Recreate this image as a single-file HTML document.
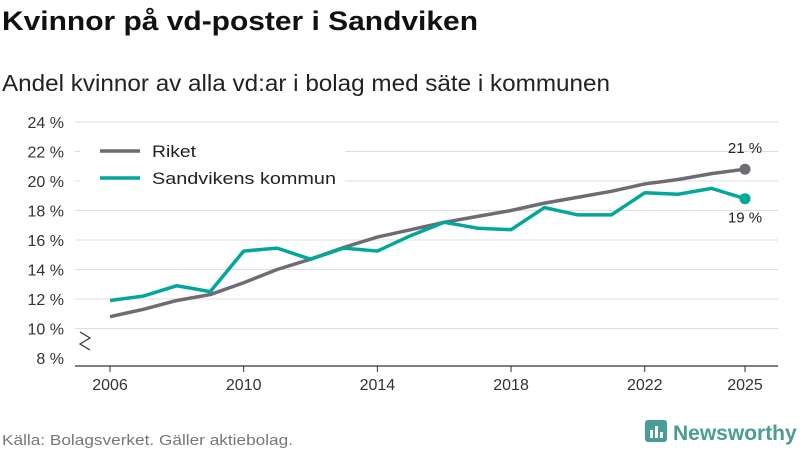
<!DOCTYPE html>
<html><head><meta charset="utf-8"><style>
body{margin:0;width:800px;height:450px;background:#fff;overflow:hidden;font-family:"Liberation Sans",sans-serif}
</style></head><body>
<svg id="c" width="800" height="450" style="position:absolute;left:0;top:0">
<text x="2" y="30" font-size="27" font-weight="bold" fill="#111" textLength="476" lengthAdjust="spacingAndGlyphs">Kvinnor på vd-poster i Sandviken</text>
<text x="2" y="91" font-size="23" fill="#222" textLength="608" lengthAdjust="spacingAndGlyphs">Andel kvinnor av alla vd:ar i bolag med säte i kommunen</text>
<text x="2" y="445" font-size="15" fill="#777" textLength="291" lengthAdjust="spacingAndGlyphs">Källa: Bolagsverket. Gäller aktiebolag.</text>
<g>
<rect x="645" y="420" width="22" height="22" rx="3" fill="#4a9d95"/>
<rect x="650" y="430" width="3" height="8" fill="#fff"/><rect x="655" y="426" width="3" height="12" fill="#fff"/><rect x="660" y="432" width="3" height="6" fill="#fff"/>
<text x="673" y="440" font-size="21" font-weight="bold" fill="#4a9d95">Newsworthy</text>
</g>
<g id="plot"></g>
</svg>
<script>
const years=[2006,2007,2008,2009,2010,2011,2012,2013,2014,2015,2016,2017,2018,2019,2020,2021,2022,2023,2024,2025];
const riket=[10.8,11.3,11.9,12.3,13.1,14.0,14.7,15.5,16.2,16.7,17.2,17.6,18.0,18.5,18.9,19.3,19.8,20.1,20.5,20.8];
const sandviken=[11.9,12.2,12.9,12.5,15.25,15.45,14.7,15.45,15.25,16.3,17.2,16.8,16.7,18.2,17.7,17.7,19.2,19.1,19.5,18.8];
const yTicks=[8,10,12,14,16,18,20,22,24];
const xTicks=[2006,2010,2014,2018,2022,2025];
const X=v=>110+(v-2006)*(745-110)/19;
const Y=v=>358-(v-8)*(236/16);
const ns="http://www.w3.org/2000/svg";
const g=document.getElementById('plot');
function el(t,a,txt){const e=document.createElementNS(ns,t);for(const k in a)e.setAttribute(k,a[k]);if(txt!=null)e.textContent=txt;g.appendChild(e);return e;}
yTicks.forEach(v=>{
 if(v>8){const l=el('line',{x1:75,x2:778,y1:Y(v),y2:Y(v),stroke:'#ddd','stroke-width':1});
 
 }
 const t=el('text',{x:64,y:Y(v)+6,'text-anchor':'end','font-size':16,fill:'#333'},v+' %');
 
 
});
const ax=el('line',{x1:75,x2:778,y1:366,y2:366,stroke:'#333','stroke-width':1.2});


const br=el('path',{d:'M80 332 L90 338 L80 344 L90 350',fill:'none',stroke:'#333','stroke-width':1.2});


xTicks.forEach(v=>{
 el('line',{x1:X(v),x2:X(v),y1:366,y2:372,stroke:'#333'});
 const t=el('text',{x:X(v),y:390,'text-anchor':'middle','font-size':16,fill:'#333'},v);
 
 
});
function line(data,color,name){
 const p=el('polyline',{points:data.map((v,i)=>X(years[i])+','+Y(v)).join(' '),fill:'none',stroke:color,'stroke-width':3.5,'stroke-linejoin':'round'});
 
 
 const n=data.length-1;
 const c=el('circle',{cx:X(years[n]),cy:Y(data[n]),r:5.5,fill:color});
 
 
}
line(riket,'#6e6c72','riket-line');
line(sandviken,'#00a79a','sandviken-line');
const n=years.length-1;
const l1=el('text',{x:X(years[n]),y:Y(riket[n])-16,'text-anchor':'middle','font-size':15,fill:'#222'},Math.round(riket[n])+' %');


const l2=el('text',{x:X(years[n]),y:Y(sandviken[n])+24,'text-anchor':'middle','font-size':15,fill:'#222'},Math.round(sandviken[n])+' %');


const lb=el('rect',{x:80,y:136,width:265,height:58,fill:'#fff'});


[['Riket','#6e6c72',151,44],['Sandvikens kommun','#00a79a',178,184]].forEach(([t,c,y,w])=>{
 el('line',{x1:100,x2:140,y1:y,y2:y,stroke:c,'stroke-width':3.5});
 const tx=el('text',{x:152,y:y+6,'font-size':17,fill:'#222',textLength:w,lengthAdjust:'spacingAndGlyphs'},t);
 
 
});
</script>
</body></html>
